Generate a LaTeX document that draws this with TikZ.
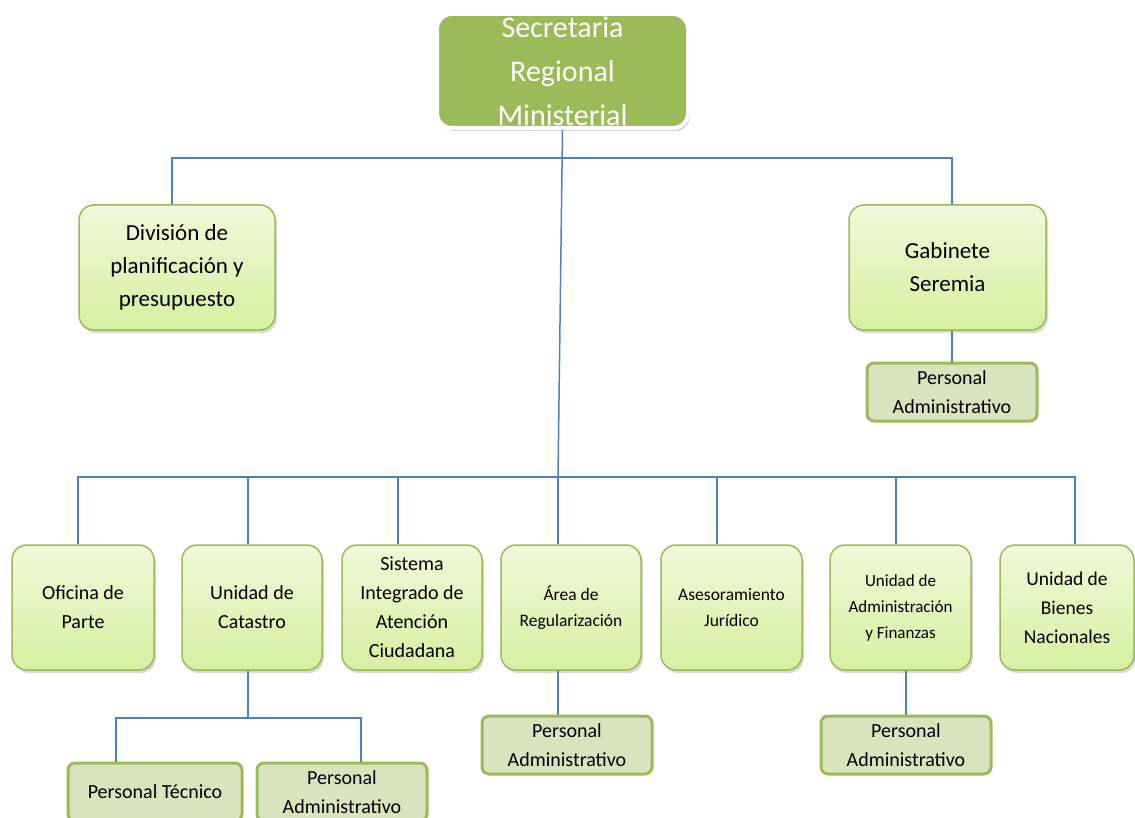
\documentclass[tikz,border=0pt]{standalone}
\usepackage{fontspec}
\setmainfont{Carlito}
\usetikzlibrary{shadows}
\usetikzlibrary{positioning}
\usetikzlibrary{calc}

\definecolor{headgreen}{HTML}{9BBB59}
\definecolor{unittop}{RGB}{240,249,218}
\definecolor{unitbottom}{RGB}{214,240,160}
\definecolor{stafffill}{HTML}{D7E4BD}
\definecolor{linkblue}{HTML}{4F81BD}

\tikzset{
  headbox/.style={draw=white, line width=4pt, fill=headgreen, rounded corners=15pt,
    minimum width=251pt, minimum height=114pt, inner sep=0pt, align=center, text=white,
    font=\fontsize{30}{44}\selectfont,
    drop shadow={shadow xshift=2pt, shadow yshift=-3pt, opacity=.35}},
  unitbox/.style={draw=headgreen, line width=1.5pt, top color=unittop, bottom color=unitbottom,
    rounded corners=15pt, minimum width=140pt, minimum height=125pt, inner sep=0pt, align=center,
    font=\fontsize{20}{29}\selectfont,
    drop shadow={shadow xshift=2pt, shadow yshift=-3pt, opacity=.3}},
  staffbox/.style={draw=headgreen, line width=3pt, fill=stafffill, rounded corners=7pt,
    minimum width=170pt, minimum height=58pt, inner sep=0pt, align=center,
    font=\fontsize{20}{29}\selectfont},
  link/.style={draw=linkblue, line width=1.5pt}
}

\begin{document}
\begin{tikzpicture}[x=1pt,y=-1pt]
\useasboundingbox (0,0) rectangle (1135,818);

%head
\node[headbox] (seremi) at (562.5,71) {Secretaria\\Regional\\Ministerial};

%upper level
\node[unitbox, minimum width=196pt, font=\fontsize{23}{33}\selectfont] (division) at (177,267.5) {División de\\planificación y\\presupuesto};
\node[unitbox, minimum width=197pt, font=\fontsize{23}{33}\selectfont] (gabinete) at (947.5,267.5) {Gabinete\\Seremia};
\node[staffbox] (gabstaff) at (952,392) {Personal\\Administrativo};

%lower level
\node[unitbox, minimum width=142pt] (oficina) at (83,607.5) {Oficina de\\Parte};
\node[unitbox] (catastro) at (252,607.5) {Unidad de\\Catastro};
\node[unitbox] (sistema) at (412,607.5) {Sistema\\Integrado de\\Atención\\Ciudadana};
\node[unitbox, font=\fontsize{17.5}{26}\selectfont] (area) at (571,607.5) {Área de\\Regularización};
\node[unitbox, minimum width=141pt, font=\fontsize{17.5}{26}\selectfont] (asesor) at (731.5,607.5) {Asesoramiento\\Jurídico};
\node[unitbox, minimum width=141pt, font=\fontsize{17}{26}\selectfont] (admin) at (900.5,607.5) {Unidad de\\Administración\\y Finanzas};
\node[unitbox, minimum width=134pt, font=\fontsize{19.5}{29}\selectfont] (bienes) at (1067,607.5) {Unidad de\\Bienes\\Nacionales};

%staff
\node[staffbox, minimum width=174pt] (tecnico) at (155,792) {Personal Técnico};
\node[staffbox] (catstaff) at (342,792) {Personal\\Administrativo};
\node[staffbox] (areastaff) at (567,745) {Personal\\Administrativo};
\node[staffbox] (adminstaff) at (906,745) {Personal\\Administrativo};

%lines
\coordinate (topbus) at (562.5,158);
\coordinate (bus) at (558,477);
\draw[link] (seremi.south) -- (bus);
\draw[link] ([xshift=-5pt]division.north) |- (topbus) -| ([xshift=4.5pt]gabinete.north);
\draw[link] (gabstaff.north) -- (gabstaff.north |- gabinete.south);
\foreach \nd/\dx in {oficina/-5, catastro/-4, sistema/-14, area/-13, asesor/-14.5, admin/-4.5, bienes/8} {
\draw[link] ([xshift=\dx pt]\nd.north) |- (bus);
}
\draw[link] ([xshift=-4pt]catastro.south) -- ++(0,47) coordinate (catbus);
\draw[link] ([xshift=-39pt]tecnico.north) |- (catbus) -| ([xshift=19pt]catstaff.north);
\coordinate (areadrop) at ([xshift=-9pt]areastaff.north);
\draw[link] (areadrop) -- (areadrop |- area.south);
\draw[link] (adminstaff.north) -- (adminstaff.north |- admin.south);
\end{tikzpicture}
\end{document}
